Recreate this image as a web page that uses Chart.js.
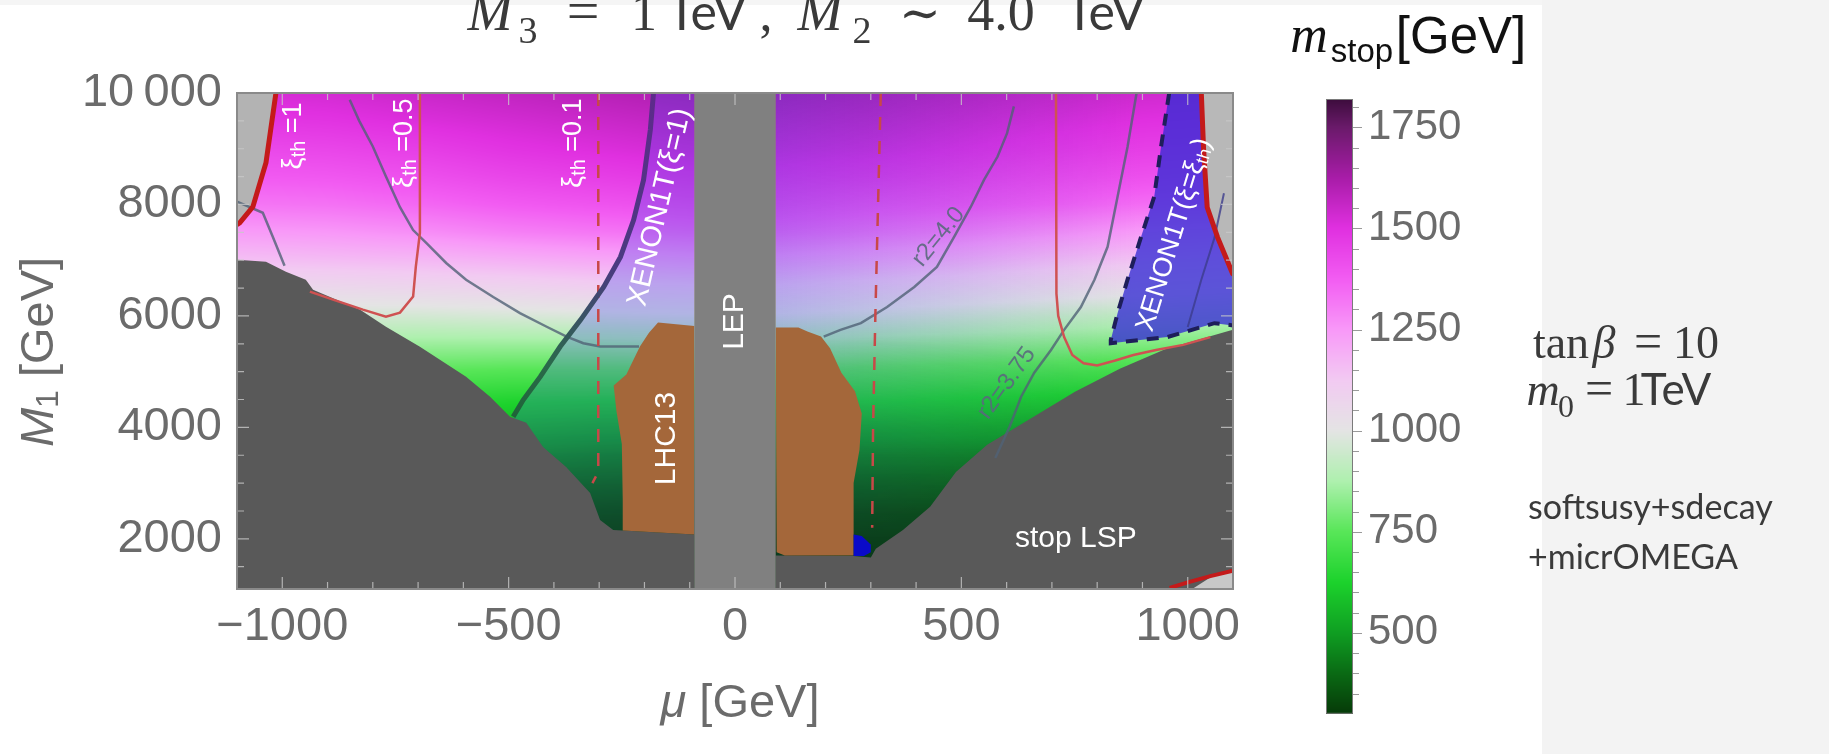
<!DOCTYPE html>
<html>
<head>
<meta charset="utf-8">
<script src="https://cdn.jsdelivr.net/npm/chart.js@4.4.0/dist/chart.umd.min.js"></script>
<style>
  body { margin: 0; background: #fff; width: 1829px; height: 754px; overflow: hidden; position: relative; }
  #side { position: absolute; left: 1542px; top: 0; width: 287px; height: 754px; background: #f3f3f3; }
  #topband { position: absolute; left: 0; top: 0; width: 1542px; height: 5px; background: #f5f5f5; }
  canvas { position: absolute; top: 0; }
</style>
</head>
<body>
<div id="side"></div>
<div id="topband"></div>
<canvas id="plot" width="1829" height="754" style="left:0"></canvas>
<canvas id="bar" width="260" height="754" style="left:1280px"></canvas>
<script>
"use strict";
// ---- data ----
const muTicks = [-1000, -500, 0, 500, 1000];
const m1Ticks = [2000, 4000, 6000, 8000, 10000];
const barTicks = [500, 750, 1000, 1250, 1500, 1750];

// m_stop grid: columns = muGrid, rows = m1Grid (bottom to top)
const muGrid = [-1100, -900, -700, -500, -300, -100, 100, 300, 500, 700, 900, 1100];
const m1Grid = [1000, 1500, 2000, 2500, 3000, 3500, 4000, 4500, 5000, 5500, 6000, 6500, 7000, 7500, 8000, 8500, 9000, 9500, 10000];
const mStop = [
  [320, 310, 300, 300, 300, 300, 300, 300, 300, 300, 300, 300],
  [330, 320, 310, 300, 300, 300, 300, 300, 300, 300, 300, 300],
  [360, 350, 340, 330, 320, 310, 310, 310, 310, 310, 310, 310],
  [410, 390, 370, 360, 350, 340, 340, 340, 340, 340, 340, 340],
  [470, 450, 430, 410, 400, 390, 390, 390, 390, 390, 390, 390],
  [540, 520, 500, 480, 460, 450, 450, 450, 450, 450, 450, 450],
  [620, 600, 580, 560, 540, 530, 530, 530, 530, 520, 520, 520],
  [700, 680, 660, 640, 630, 630, 630, 630, 620, 610, 600, 600],
  [780, 770, 750, 740, 740, 740, 740, 730, 720, 710, 700, 700],
  [870, 860, 850, 850, 850, 860, 860, 840, 830, 820, 810, 800],
  [960, 960, 960, 970, 980, 990, 990, 970, 950, 930, 910, 900],
  [1060, 1060, 1070, 1080, 1100, 1110, 1110, 1090, 1070, 1050, 1030, 1010],
  [1150, 1160, 1170, 1190, 1210, 1230, 1230, 1210, 1190, 1160, 1140, 1120],
  [1240, 1250, 1270, 1300, 1320, 1340, 1340, 1320, 1300, 1270, 1240, 1220],
  [1320, 1330, 1350, 1380, 1400, 1420, 1420, 1400, 1390, 1370, 1340, 1320],
  [1380, 1390, 1410, 1440, 1460, 1480, 1480, 1470, 1450, 1430, 1410, 1390],
  [1430, 1440, 1460, 1490, 1510, 1530, 1530, 1520, 1500, 1480, 1460, 1450],
  [1480, 1490, 1510, 1530, 1550, 1570, 1570, 1560, 1540, 1520, 1500, 1490],
  [1520, 1530, 1550, 1570, 1590, 1610, 1610, 1600, 1580, 1560, 1540, 1530]
];

// colour map of the bar
const cmapValues = [300, 400, 500, 625, 750, 875, 1000, 1125, 1250, 1375, 1500, 1625, 1750, 1820];
const cmapColors = ['#063a08', '#0a6a14', '#0f9e22', '#1cd22c', '#58e658', '#aef0ae', '#e4e4e4', '#f2caf2',
                    '#f898f8', '#f25cf2', '#e030e0', '#a81ca8', '#6a1a6a', '#3c0c3c'];

// region boundaries (mu, M1)
const lspLeft = [[-1100, 1100], [-1100, 7010], [-1036, 6971], [-992, 6792], [-948, 6648], [-932, 6469], [-828, 6110],
  [-771, 5805], [-696, 5446], [-594, 4907], [-541, 4548], [-497, 4189], [-461, 4081], [-424, 3650], [-373, 3291],
  [-320, 2824], [-298, 2340], [-269, 2160], [-248, 2150], [-90, 2080], [-90, 1100]];
const lspRight = [[90, 1100], [90, 1700], [262, 1690], [300, 1664], [311, 1820], [371, 2160], [431, 2577], [488, 3200],
  [557, 3690], [667, 4226], [751, 4640], [850, 5050], [950, 5400], [1090, 5730], [1100, 5750], [1100, 1100]];
const lhcLeft = [[-90, 5820], [-170, 5880], [-190, 5700], [-210, 5450], [-240, 4950], [-268, 4750], [-262, 4300],
  [-250, 3700], [-248, 2700], [-248, 2150], [-90, 2080]];
const lhcRight = [[90, 5790], [140, 5790], [160, 5720], [190, 5630], [210, 5420], [235, 4980], [265, 4650], [280, 4250],
  [275, 3600], [262, 3000], [262, 2300], [262, 1700], [110, 1700], [92, 1760]];
const lepBand = [[-90, 1100], [-90, 10000], [90, 10000], [90, 1100]];
const smallBlue = [[262, 2080], [280, 2050], [300, 1900], [300, 1760], [285, 1690], [262, 1690]];
const cornerLeft = [[-1100, 10000], [-1014, 10000], [-1036, 8747], [-1065, 7957], [-1094, 7670], [-1100, 7640]];
const cornerRight = [[1030, 10000], [1100, 10000], [1100, 6700], [1099, 6760], [1066, 7410], [1043, 7950], [1035, 9000]];
const cornerLow = [[1010, 1100], [1100, 1100], [1100, 1450], [1060, 1360]];
const xenonRight = [[959, 10000], [1030, 10000], [1035, 9000], [1043, 7950], [1066, 7410], [1099, 6760], [1100, 5830],
  [1059, 5870], [955, 5620], [830, 5510], [830, 5570], [845, 6050], [867, 6650], [897, 7420], [926, 8140], [941, 9030]];
const xenonLeftTint = [[-180, 10000], [-187, 9340], [-202, 8440], [-224, 7720], [-253, 7060], [-290, 6520], [-341, 5930],
  [-386, 5450], [-430, 4910], [-468, 4490], [-490, 4190], [-490, 1100], [-90, 1100], [-90, 10000]];
const xenonRightTint = [[90, 1100], [90, 10000], [900, 10000], [900, 1100]];

// contour lines
const xiOneLeft = [[-1014, 10000], [-1036, 8747], [-1065, 7957], [-1094, 7670], [-1100, 7640]];
const xiOneRight = [[1030, 10000], [1035, 9000], [1043, 7950], [1066, 7410], [1099, 6760], [1110, 6700]];
const xiHalfLeft = [[-696, 10000], [-696, 7490], [-705, 6885], [-711, 6347], [-740, 6060], [-771, 5988], [-822, 6113],
  [-888, 6292], [-939, 6436]];
const xiHalfRight = [[709, 10000], [710, 6400], [714, 6000], [727, 5620], [745, 5300], [770, 5150], [800, 5110],
  [840, 5200], [880, 5300], [930, 5390], [990, 5480], [1050, 5620]];
const xiTenthLeft = [[-302, 10000], [-302, 3200], [-315, 3000]];
const xiTenthRight = [[322, 10000], [310, 6000], [305, 4000], [303, 2200]];
const r2LeftOuter = [[-1100, 8050], [-1043, 7850], [-1021, 7420], [-995, 6900]];
const r2Left = [[-851, 9880], [-830, 9500], [-800, 9040], [-771, 8500], [-740, 7950], [-711, 7540], [-682, 7310],
  [-638, 6950], [-594, 6650], [-534, 6340], [-475, 6050], [-417, 5810], [-372, 5630], [-335, 5510], [-298, 5450],
  [-246, 5450], [-212, 5450]];
const r2Four = [[616, 9760], [601, 9280], [580, 8860], [550, 8440], [521, 7960], [484, 7420], [446, 6880], [396, 6520],
  [336, 6160], [278, 5870], [233, 5750], [196, 5630]];
const r2ThreeSeventyFive = [[887, 10000], [867, 9030], [845, 8140], [823, 7240], [794, 6650], [764, 6160], [727, 5750],
  [698, 5390], [661, 4980], [632, 4550], [607, 4020], [575, 3450]];
const r2Blue = [[1080, 8200], [1059, 7400], [1030, 6650], [1000, 5800]];
const xenonEdge = [[-180, 10000], [-187, 9340], [-202, 8440], [-224, 7720], [-253, 7060], [-290, 6520], [-341, 5930],
  [-386, 5450], [-430, 4910], [-468, 4490], [-490, 4190]];
const xenonRightEdge = [[959, 10000], [941, 9030], [926, 8140], [897, 7420], [867, 6650], [845, 6050], [830, 5570],
  [830, 5510], [955, 5620], [1059, 5870], [1100, 5830]];
const lowRed = [[960, 1120], [1000, 1220], [1050, 1330], [1100, 1430]];

// ---- helpers ----
function hexRgb(h) { return [parseInt(h.slice(1, 3), 16), parseInt(h.slice(3, 5), 16), parseInt(h.slice(5, 7), 16)]; }
const cmapRgb = cmapColors.map(hexRgb);

function colorFor(v) {
  if (v <= cmapValues[0]) return cmapRgb[0];
  for (let i = 0; i < cmapValues.length - 1; i++) {
    if (v <= cmapValues[i + 1]) {
      const t = (v - cmapValues[i]) / (cmapValues[i + 1] - cmapValues[i]);
      const a = cmapRgb[i], b = cmapRgb[i + 1];
      return [a[0] + (b[0] - a[0]) * t, a[1] + (b[1] - a[1]) * t, a[2] + (b[2] - a[2]) * t];
    }
  }
  return cmapRgb[cmapRgb.length - 1];
}

function locate(arr, v) {
  if (v <= arr[0]) return [0, 0];
  for (let i = 0; i < arr.length - 1; i++) {
    if (v <= arr[i + 1]) return [i, (v - arr[i]) / (arr[i + 1] - arr[i])];
  }
  return [arr.length - 2, 1];
}

function mStopAt(mu, m1) {
  const [i, tx] = locate(muGrid, mu);
  const [j, ty] = locate(m1Grid, m1);
  const a = mStop[j][i], b = mStop[j][i + 1], c = mStop[j + 1][i], d = mStop[j + 1][i + 1];
  return (a * (1 - tx) + b * tx) * (1 - ty) + (c * (1 - tx) + d * tx) * ty;
}

function fillPoly(chart, pts, style, target) {
  const ctx = target || chart.ctx, x = chart.scales.x, y = chart.scales.y;
  ctx.beginPath();
  pts.forEach(function (p, i) {
    const px = x.getPixelForValue(p[0]), py = y.getPixelForValue(p[1]);
    if (i) ctx.lineTo(px, py); else ctx.moveTo(px, py);
  });
  ctx.closePath();
  ctx.fillStyle = style;
  ctx.fill();
}

// draw a run of text pieces (for sub scripts), rotated round its centre
function drawRich(ctx, parts, cx, cy, angle, color) {
  ctx.save();
  ctx.translate(cx, cy);
  ctx.rotate(angle * Math.PI / 180);
  ctx.fillStyle = color;
  ctx.textBaseline = 'middle';
  ctx.textAlign = 'left';
  let w = 0;
  parts.forEach(function (p) { ctx.font = p.f; w += ctx.measureText(p.t).width; });
  let px = -w / 2;
  parts.forEach(function (p) {
    ctx.font = p.f;
    ctx.fillText(p.t, px, p.dy || 0);
    px += ctx.measureText(p.t).width;
  });
  ctx.restore();
}

function chunk(ctx, text, font, cx, base, color) {
  ctx.font = font;
  ctx.fillStyle = color || '#3a3a3a';
  ctx.textAlign = 'center';
  ctx.textBaseline = 'alphabetic';
  ctx.fillText(text, cx, base);
}

function fitText(ctx, text, family, left, base, width, color) {
  ctx.font = '40px ' + family;
  const size = 40 * width / ctx.measureText(text).width;
  ctx.font = size.toFixed(1) + 'px ' + family;
  ctx.fillStyle = color;
  ctx.textAlign = 'left';
  ctx.textBaseline = 'alphabetic';
  ctx.fillText(text, left, base);
}

const SANS = '"Liberation Sans", Arial, sans-serif';
const SERIF = '"Liberation Serif", "DejaVu Serif", serif';
const LATO = 'Lato, "Open Sans", sans-serif';

// ---- plot plugin ----
const fieldPlugin = {
  id: 'field',
  beforeDatasetsDraw(chart) {
    const ctx = chart.ctx, a = chart.chartArea, x = chart.scales.x, y = chart.scales.y;
    const L = Math.round(a.left), T = Math.round(a.top);
    const W = Math.round(a.right) - L, H = Math.round(a.bottom) - T;
    const img = ctx.createImageData(W, H);
    for (let py = 0; py < H; py++) {
      const m1 = y.getValueForPixel(T + py + 0.5);
      for (let px = 0; px < W; px++) {
        const mu = x.getValueForPixel(L + px + 0.5);
        const c = colorFor(mStopAt(mu, m1));
        const k = (py * W + px) * 4;
        img.data[k] = c[0]; img.data[k + 1] = c[1]; img.data[k + 2] = c[2]; img.data[k + 3] = 255;
      }
    }
    ctx.putImageData(img, L, T);

    // blue tint of the XENON1T(xi=1) band, fading out towards low M1 and large mu
    const off = document.createElement('canvas');
    off.width = chart.width; off.height = chart.height;
    const o = off.getContext('2d');
    fillPoly(chart, xenonLeftTint, 'rgba(60,70,230,0.30)', o);
    const gh = o.createLinearGradient(x.getPixelForValue(90), 0, x.getPixelForValue(900), 0);
    gh.addColorStop(0, 'rgba(60,70,230,0.30)');
    gh.addColorStop(1, 'rgba(60,70,230,0)');
    fillPoly(chart, xenonRightTint, gh, o);
    o.globalCompositeOperation = 'destination-in';
    const gv = o.createLinearGradient(0, y.getPixelForValue(10000), 0, y.getPixelForValue(1500));
    gv.addColorStop(0, 'rgba(0,0,0,1)');
    gv.addColorStop(0.5, 'rgba(0,0,0,1)');
    gv.addColorStop(1, 'rgba(0,0,0,0.3)');
    o.fillStyle = gv;
    o.fillRect(0, 0, off.width, off.height);

    ctx.save();
    ctx.beginPath();
    ctx.rect(a.left, a.top, a.right - a.left, a.bottom - a.top);
    ctx.clip();
    ctx.drawImage(off, 0, 0);
    fillPoly(chart, lspLeft, '#595959');
    fillPoly(chart, lspRight, '#595959');
    fillPoly(chart, lhcLeft, '#a4673a');
    fillPoly(chart, lhcRight, '#a4673a');
    fillPoly(chart, smallBlue, '#0a0ac8');
    fillPoly(chart, lepBand, '#808080');
    fillPoly(chart, cornerLeft, '#b3b3b3');
    fillPoly(chart, cornerRight, '#b8b8b8');
    fillPoly(chart, cornerLow, '#c8c8c8');
    fillPoly(chart, xenonRight, 'rgba(52,44,212,0.78)');
    ctx.restore();
  },
  afterDatasetsDraw(chart) {
    const ctx = chart.ctx, a = chart.chartArea, x = chart.scales.x, y = chart.scales.y;
    const P = (mu, m1) => [x.getPixelForValue(mu), y.getPixelForValue(m1)];

    // small inner ticks
    ctx.save();
    ctx.strokeStyle = 'rgba(200,200,200,0.8)';
    ctx.lineWidth = 1.2;
    ctx.beginPath();
    for (let v = -1000; v <= 1000; v += 100) {
      const px = x.getPixelForValue(v), len = v % 500 === 0 ? 12 : 7;
      ctx.moveTo(px, a.bottom); ctx.lineTo(px, a.bottom - len);
      ctx.moveTo(px, a.top); ctx.lineTo(px, a.top + len);
    }
    for (let v = 1500; v <= 9500; v += 500) {
      const py = y.getPixelForValue(v), len = v % 2000 === 0 ? 12 : 7;
      ctx.moveTo(a.left, py); ctx.lineTo(a.left + len, py);
      ctx.moveTo(a.right, py); ctx.lineTo(a.right - len, py);
    }
    ctx.stroke();
    // frame
    ctx.strokeStyle = '#8a8a8a';
    ctx.lineWidth = 2;
    ctx.strokeRect(a.left, a.top, a.right - a.left, a.bottom - a.top);
    ctx.restore();

    // labels inside the plot
    const wf = s => s + 'px ' + SANS;
    let p = P(-975, 9230);
    drawRich(ctx, [{ t: 'ξ', f: wf(27) }, { t: 'th', f: wf(20), dy: 6 }, { t: ' =1', f: wf(27) }], p[0], p[1], -90, '#ffffff');
    p = P(-731, 9100);
    drawRich(ctx, [{ t: 'ξ', f: wf(27) }, { t: 'th', f: wf(20), dy: 6 }, { t: ' =0.5', f: wf(27) }], p[0], p[1], -90, '#ffffff');
    p = P(-357, 9100);
    drawRich(ctx, [{ t: 'ξ', f: wf(27) }, { t: 'th', f: wf(20), dy: 6 }, { t: ' =0.1', f: wf(27) }], p[0], p[1], -90, '#ffffff');
    p = P(-166, 7950);
    drawRich(ctx, [{ t: 'XENON1T(ξ=1)', f: wf(29) }], p[0], p[1], -77, '#ffffff');
    p = P(0, 5900);
    drawRich(ctx, [{ t: 'LEP', f: wf(30) }], p[0], p[1], -90, '#ffffff');
    p = P(-151, 3800);
    drawRich(ctx, [{ t: 'LHC13', f: wf(30) }], p[0], p[1], -90, '#ffffff');
    p = P(753, 1994);
    drawRich(ctx, [{ t: 'stop LSP', f: wf(30) }], p[0], p[1], 0, '#ffffff');
    p = P(970, 7455);
    drawRich(ctx, [{ t: 'XENON1T(ξ=ξ', f: wf(27) }, { t: 'th', f: wf(18), dy: 6 }, { t: ')', f: wf(27) }], p[0], p[1], -73, '#ffffff');
    p = P(450, 7419);
    drawRich(ctx, [{ t: 'r2=4.0', f: wf(24) }], p[0], p[1], -51, 'rgba(90,105,125,0.9)');
    p = P(600, 4795);
    drawRich(ctx, [{ t: 'r2=3.75', f: wf(24) }], p[0], p[1], -54, 'rgba(90,105,125,0.9)');

    // axis titles
    drawRich(ctx, [{ t: 'M', f: 'italic ' + wf(47) }, { t: '1', f: wf(32), dy: 9 }, { t: ' [GeV]', f: wf(47) }], 40, 352, -90, '#6b6b6b');
    drawRich(ctx, [{ t: 'μ', f: 'italic ' + wf(47) }, { t: ' [GeV]', f: wf(47) }], 740, 704, 0, '#6b6b6b');

    // title (top edge cut off as in the slide)
    const c = '#3a3a3a';
    chunk(ctx, 'M', 'italic 54px ' + SERIF, 490, 30, c);
    chunk(ctx, '3', '38px ' + SERIF, 528, 43, c);
    chunk(ctx, '=', '58px ' + SERIF, 583, 30, c);
    chunk(ctx, '1', '52px ' + SERIF, 644, 30, c);
    chunk(ctx, 'TeV', '50px ' + LATO, 707, 30, c);
    chunk(ctx, ',', '52px ' + SERIF, 766, 30, c);
    chunk(ctx, 'M', 'italic 54px ' + SERIF, 820, 30, c);
    chunk(ctx, '2', '38px ' + SERIF, 862, 43, c);
    chunk(ctx, '\u223c', '50px "DejaVu Serif", serif', 920, 30, c);
    chunk(ctx, '4.0', '54px ' + SERIF, 1001, 30, c);
    chunk(ctx, 'TeV', '50px ' + LATO, 1105, 30, c);

    // colour bar title
    chunk(ctx, 'm', 'italic 52px ' + SERIF, 1309, 52, '#111');
    chunk(ctx, 'stop', '33px ' + SANS, 1362, 62, '#111');
    chunk(ctx, '[GeV]', '51px ' + SANS, 1461, 53, '#111');

    // parameter notes
    chunk(ctx, 'tan', '46px ' + SERIF, 1561, 358, c);
    chunk(ctx, 'β', 'italic 46px ' + SERIF, 1604, 358, c);
    chunk(ctx, '=', '50px ' + SERIF, 1648, 358, c);
    chunk(ctx, '10', '46px ' + SERIF, 1696, 358, c);
    chunk(ctx, 'm', 'italic 46px ' + SERIF, 1543, 405, c);
    chunk(ctx, '0', '32px ' + SERIF, 1566, 417, c);
    chunk(ctx, '=', '50px ' + SERIF, 1599, 405, c);
    chunk(ctx, '1', '46px ' + SERIF, 1634, 405, c);
    chunk(ctx, 'TeV', '44px ' + LATO, 1676, 405, c);
    fitText(ctx, 'softsusy+sdecay', LATO, 1528, 519, 245, c);
    fitText(ctx, '+micrOMEGA', LATO, 1528, 569, 210, c);
  }
};

function line(pts, color, width, dash) {
  return {
    data: pts.map(p => ({ x: p[0], y: p[1] })),
    showLine: true, pointRadius: 0, borderColor: color, borderWidth: width,
    borderDash: dash || [], tension: 0, fill: false
  };
}

const xenonGradient = function (context) {
  const chart = context.chart, a = chart.chartArea;
  if (!a) return '#2a5a3a';
  const g = chart.ctx.createLinearGradient(0, a.top, 0, a.bottom);
  g.addColorStop(0, '#5e2a8c');
  g.addColorStop(0.35, '#4a3a80');
  g.addColorStop(0.55, '#2a6a4a');
  g.addColorStop(0.8, '#0e5a1e');
  g.addColorStop(1, '#0a4a18');
  return g;
};

const r2Color = 'rgba(80,98,118,0.8)';
const xenonEdgeSet = line(xenonEdge, '#2a5a3a', 5);
xenonEdgeSet.borderColor = xenonGradient;

new Chart(document.getElementById('plot'), {
  type: 'scatter',
  data: {
    datasets: [
      line(xiOneLeft, '#c41a1a', 5),
      line(xiOneRight, '#c41a1a', 5),
      line(xenonRightEdge, '#1e1e5a', 4, [12, 9]),
      xenonEdgeSet,
      line(xiHalfLeft, '#cf5252', 2.5),
      line(xiHalfRight, '#cf5252', 2.5),
      line(xiTenthLeft, '#c84848', 2.5, [13, 11]),
      line(xiTenthRight, '#c84848', 2.5, [13, 11]),
      line(r2LeftOuter, r2Color, 2.5),
      line(r2Left, r2Color, 2.5),
      line(r2Four, r2Color, 2.5),
      line(r2ThreeSeventyFive, r2Color, 2.5),
      line(r2Blue, 'rgba(60,60,140,0.8)', 2),
      line(lowRed, '#c41a1a', 4)
    ]
  },
  options: {
    responsive: false,
    animation: false,
    layout: { padding: { left: 0, top: 93, right: 596, bottom: 0 } },
    plugins: { legend: { display: false }, tooltip: { enabled: false } },
    scales: {
      x: {
        type: 'linear', min: -1100, max: 1100,
        grid: { display: false, drawTicks: false }, border: { display: false },
        afterFit: s => { s.height = 165; },
        afterBuildTicks: s => { s.ticks = muTicks.map(v => ({ value: v })); },
        ticks: {
          font: { family: SANS, size: 47 }, color: '#6b6b6b', padding: 10, maxRotation: 0, autoSkip: false,
          callback: v => v < 0 ? '\u2212' + (-v) : String(v)
        }
      },
      y: {
        type: 'linear', min: 1100, max: 10000,
        grid: { display: false, drawTicks: false }, border: { display: false },
        afterFit: s => { s.width = 237; },
        afterBuildTicks: s => { s.ticks = m1Ticks.map(v => ({ value: v })); },
        ticks: {
          font: { family: SANS, size: 47 }, color: '#6b6b6b', padding: 15, autoSkip: false,
          callback: v => v === 10000 ? '10\u2009000' : String(v)
        }
      }
    }
  },
  plugins: [fieldPlugin]
});

// ---- colour bar ----
const barPlugin = {
  id: 'colourbar',
  beforeDatasetsDraw(chart) {
    const ctx = chart.ctx, a = chart.chartArea, y = chart.scales.y;
    for (let py = Math.round(a.top); py < Math.round(a.bottom); py++) {
      const c = colorFor(y.getValueForPixel(py + 0.5));
      ctx.fillStyle = 'rgb(' + c.map(Math.round).join(',') + ')';
      ctx.fillRect(a.left, py, a.right - a.left, 1);
    }
    ctx.save();
    ctx.strokeStyle = '#9a9a9a';
    ctx.lineWidth = 1;
    ctx.beginPath();
    for (let v = 350; v <= 1800; v += 50) {
      const py = Math.round(y.getPixelForValue(v)) + 0.5, len = v % 250 === 0 ? 9 : 6;
      ctx.moveTo(a.right, py); ctx.lineTo(a.right + len, py);
    }
    ctx.stroke();
    ctx.strokeStyle = '#7a7a7a';
    ctx.strokeRect(a.left + 0.5, a.top + 0.5, a.right - a.left - 1, a.bottom - a.top - 1);
    ctx.restore();
  }
};

new Chart(document.getElementById('bar'), {
  type: 'scatter',
  data: { datasets: [] },
  options: {
    responsive: false,
    animation: false,
    layout: { padding: { left: 46, top: 99, right: 0, bottom: 37 } },
    plugins: { legend: { display: false }, tooltip: { enabled: false } },
    scales: {
      x: { display: false, min: 0, max: 1 },
      y: {
        position: 'right', min: 300, max: 1820,
        grid: { display: false, drawTicks: false }, border: { display: false },
        afterFit: s => { s.width = 187; },
        afterBuildTicks: s => { s.ticks = barTicks.map(v => ({ value: v })); },
        ticks: { font: { family: SANS, size: 42 }, color: '#6b6b6b', padding: 15, callback: v => String(v) }
      }
    }
  },
  plugins: [barPlugin]
});
</script>
</body>
</html>
